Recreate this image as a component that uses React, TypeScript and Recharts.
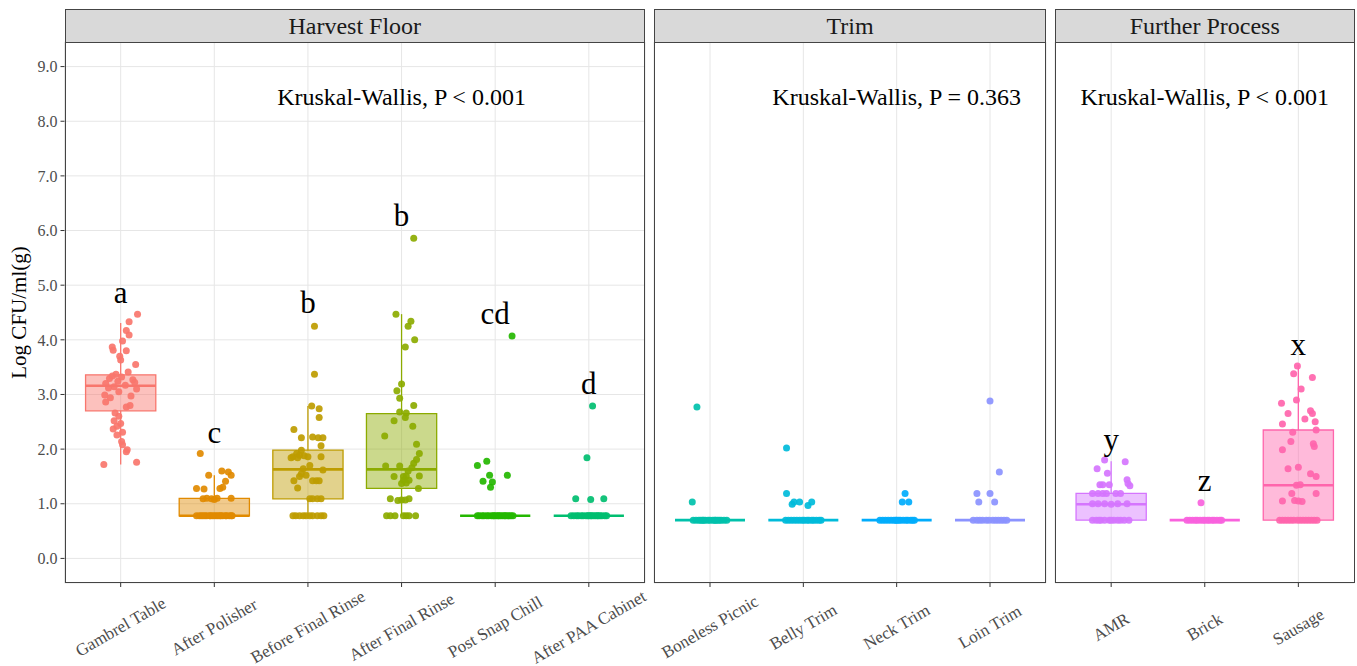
import React from 'react';
import { ComposedChart, XAxis, YAxis, CartesianGrid, Scatter, ReferenceArea, ReferenceLine } from 'recharts';

const W = 1357;
const H = 666;
const FONT = '"Liberation Serif", "Times New Roman", serif';

const yTicks = [0, 1, 2, 3, 4, 5, 6, 7, 8, 9];

const harvestCats = ['Gambrel Table', 'After Polisher', 'Before Final Rinse', 'After Final Rinse', 'Post Snap Chill', 'After PAA Cabinet'];
const trimCats = ['Boneless Picnic', 'Belly Trim', 'Neck Trim', 'Loin Trim'];
const furtherCats = ['AMR', 'Brick', 'Sausage'];

// samples as [log CFU, jitter]
const gambrelTable = [
  [4.47, 0.18], [4.33, 0.09], [4.17, 0.06], [4.09, 0.09], [3.98, 0.02], [3.87, -0.09], [3.81, -0.08], [3.8, 0.06],
  [3.7, -0.01], [3.63, 0.0], [3.55, 0.16], [3.41, 0.08], [3.37, -0.05], [3.34, -0.09], [3.32, 0.01], [3.29, -0.12],
  [3.27, 0.13], [3.24, -0.03], [3.22, 0.15], [3.2, -0.16], [3.17, 0.05], [3.14, -0.07], [3.12, -0.13], [3.1, 0.17],
  [3.05, -0.02], [2.99, -0.17], [2.97, 0.11], [2.94, -0.11], [2.86, -0.16], [2.8, 0.1], [2.77, 0.06], [2.66, -0.06],
  [2.6, -0.02], [2.52, -0.07], [2.47, 0.0], [2.42, -0.04], [2.37, -0.08], [2.31, 0.02], [2.26, -0.04], [2.14, 0.01],
  [2.08, 0.02], [1.99, 0.07], [1.95, 0.06], [1.76, 0.17], [1.72, -0.18],
];
const afterPolisher = [
  [1.92, -0.15], [1.6, 0.08], [1.58, 0.15], [1.52, -0.06], [1.52, 0.18], [1.41, 0.12], [1.3, 0.09], [1.28, 0.06],
  [1.28, -0.19], [1.27, -0.11], [1.1, -0.08], [1.1, 0.03], [1.1, 0.18], [1.09, -0.03], [1.08, 0.0], [1.09, -0.12],
  [0.78, -0.19], [0.78, -0.16], [0.78, -0.14], [0.78, -0.1], [0.78, -0.08], [0.78, -0.05], [0.78, -0.04], [0.78, 0.0],
  [0.78, 0.02], [0.78, 0.04], [0.78, 0.07], [0.78, 0.09], [0.78, 0.12], [0.78, 0.13], [0.78, 0.16], [0.78, 0.18],
  [0.78, -0.12], [0.78, 0.06], [0.78, -0.02], [0.78, 0.19],
];
const beforeFinalRinse = [
  [4.25, 0.07], [3.37, 0.07], [2.79, 0.04], [2.74, 0.12], [2.58, 0.12], [2.36, -0.15], [2.21, -0.07], [2.22, 0.05],
  [2.21, 0.11], [2.21, 0.16], [2.06, 0.14], [1.98, -0.07], [1.92, -0.12], [1.89, -0.09], [1.88, -0.04], [1.86, -0.16],
  [1.86, 0.0], [1.84, -0.18], [1.84, -0.11], [1.86, 0.14], [1.7, 0.02], [1.64, -0.05], [1.62, 0.16], [1.55, -0.07],
  [1.52, -0.02], [1.5, -0.09], [1.42, 0.05], [1.42, 0.09], [1.42, 0.12], [1.42, -0.15], [1.29, -0.11], [1.09, 0.05],
  [1.09, 0.1], [1.09, 0.14], [1.09, 0.02],
  [0.78, -0.13], [0.78, -0.09], [0.78, -0.05], [0.78, -0.02], [0.78, 0.02], [0.78, 0.05], [0.78, 0.1], [0.78, 0.14],
  [0.78, 0.17], [0.78, -0.16],
];
const afterFinalRinse = [
  [5.86, 0.13], [4.47, -0.06], [4.34, 0.1], [4.25, 0.07], [4.0, 0.14], [3.87, 0.04], [3.19, 0.0], [3.07, -0.05],
  [2.93, -0.02], [2.8, 0.13], [2.68, -0.02], [2.66, 0.05], [2.58, 0.04], [2.52, -0.08], [2.42, 0.12], [2.24, -0.18],
  [2.09, 0.16], [1.92, 0.19], [1.81, 0.16], [1.74, 0.13], [1.69, -0.17], [1.69, -0.02], [1.66, 0.11], [1.6, 0.07],
  [1.5, -0.08], [1.5, 0.02], [1.51, 0.05], [1.51, 0.19], [1.43, 0.02], [1.43, 0.08], [1.37, 0.0], [1.38, 0.05],
  [1.28, 0.18], [1.09, -0.12], [1.06, -0.04], [1.07, 0.0], [1.07, 0.04], [1.09, 0.08],
  [0.78, -0.16], [0.78, -0.12], [0.78, -0.07], [0.78, 0.02], [0.78, 0.05], [0.78, 0.08], [0.78, 0.15],
];
const postSnapChill = [
  [4.07, 0.18], [1.78, -0.09], [1.7, -0.19], [1.52, -0.06], [1.52, 0.13], [1.41, -0.13], [1.4, -0.03], [1.3, -0.05],
  [0.78, -0.19], [0.78, -0.17], [0.78, -0.14], [0.78, -0.12], [0.78, -0.09], [0.78, -0.07], [0.78, -0.04], [0.78, -0.01],
  [0.78, 0.01], [0.78, 0.03], [0.78, 0.06], [0.78, 0.08], [0.78, 0.1], [0.78, 0.13], [0.78, 0.15], [0.78, 0.17],
  [0.78, 0.19], [0.78, -0.02], [0.78, 0.04], [0.78, 0.11],
];
const afterPaaCabinet = [
  [2.79, 0.04], [1.84, -0.02], [1.09, -0.14], [1.08, 0.02], [1.09, 0.16],
  [0.78, -0.19], [0.78, -0.16], [0.78, -0.13], [0.78, -0.11], [0.78, -0.08], [0.78, -0.06], [0.78, -0.03], [0.78, 0.0],
  [0.78, 0.02], [0.78, 0.05], [0.78, 0.07], [0.78, 0.1], [0.78, 0.12], [0.78, 0.14], [0.78, 0.17], [0.78, 0.19],
  [0.78, -0.01], [0.78, 0.09], [0.78, 0.03],
];
const bonelessPicnic = [
  [2.77, -0.14], [1.03, -0.19],
  [0.7, -0.18], [0.7, -0.15], [0.7, -0.12], [0.7, -0.1], [0.7, -0.07], [0.7, -0.05], [0.7, -0.02], [0.7, 0.0],
  [0.7, 0.03], [0.7, 0.05], [0.7, 0.08], [0.7, 0.1], [0.7, 0.12], [0.7, 0.15], [0.7, 0.18], [0.7, -0.08], [0.7, 0.06],
];
const bellyTrim = [
  [2.02, -0.18], [1.19, -0.18], [0.99, -0.12], [1.03, -0.1], [1.03, -0.04], [0.97, 0.05], [1.03, 0.09],
  [0.7, -0.19], [0.7, -0.16], [0.7, -0.13], [0.7, -0.1], [0.7, -0.07], [0.7, -0.04], [0.7, -0.01], [0.7, 0.01],
  [0.7, 0.04], [0.7, 0.06], [0.7, 0.09], [0.7, 0.11], [0.7, 0.14], [0.7, 0.17], [0.7, 0.19],
];
const neckTrim = [
  [1.19, 0.09], [1.03, 0.06], [1.03, 0.13],
  [0.7, -0.18], [0.7, -0.15], [0.7, -0.12], [0.7, -0.09], [0.7, -0.06], [0.7, -0.03], [0.7, -0.01], [0.7, 0.02],
  [0.7, 0.04], [0.7, 0.07], [0.7, 0.1], [0.7, 0.12], [0.7, 0.15], [0.7, 0.17], [0.7, 0.19], [0.7, 0.0],
];
const loinTrim = [
  [2.88, 0.0], [1.58, 0.1], [1.19, -0.14], [1.19, 0.0], [1.03, -0.12], [1.03, 0.05],
  [0.7, -0.18], [0.7, -0.14], [0.7, -0.11], [0.7, -0.08], [0.7, -0.04], [0.7, -0.01], [0.7, 0.03], [0.7, 0.06],
  [0.7, 0.09], [0.7, 0.12], [0.7, 0.15], [0.7, 0.18],
];
const amr = [
  [1.8, -0.07], [1.77, 0.15], [1.64, -0.15], [1.56, -0.04], [1.44, 0.17], [1.35, -0.12], [1.35, -0.09], [1.35, -0.02],
  [1.33, 0.2], [1.37, 0.18], [1.19, -0.2], [1.19, -0.14], [1.19, -0.09], [1.19, -0.05], [1.19, 0.05], [1.19, 0.1],
  [1.0, -0.14], [1.0, -0.07], [0.99, 0.0], [1.0, 0.07], [1.0, 0.17], [1.0, -0.2],
  [0.7, -0.2], [0.7, -0.16], [0.7, -0.11], [0.7, -0.07], [0.7, -0.02], [0.7, 0.03], [0.7, 0.07], [0.7, 0.1],
  [0.7, 0.14], [0.7, 0.19], [0.7, -0.13], [0.7, 0.0],
];
const brick = [
  [1.02, -0.04],
  [0.7, -0.19], [0.7, -0.16], [0.7, -0.13], [0.7, -0.1], [0.7, -0.08], [0.7, -0.05], [0.7, -0.02], [0.7, 0.0],
  [0.7, 0.03], [0.7, 0.05], [0.7, 0.08], [0.7, 0.1], [0.7, 0.13], [0.7, 0.16], [0.7, 0.18],
];
const sausage = [
  [3.52, -0.01], [3.38, -0.05], [3.31, 0.15], [3.1, 0.03], [2.9, -0.02], [2.84, -0.18], [2.7, 0.13], [2.65, -0.11],
  [2.65, 0.15], [2.55, 0.07], [2.5, 0.18], [2.46, -0.17], [2.35, 0.19], [2.31, -0.06], [2.14, -0.08], [2.1, 0.16],
  [2.05, 0.17], [1.99, -0.17], [1.67, 0.0], [1.64, -0.11], [1.55, 0.13], [1.5, 0.19], [1.34, -0.02], [1.35, 0.02],
  [1.19, -0.07], [1.19, 0.19], [1.05, -0.17], [1.06, -0.04], [1.05, 0.0], [1.04, 0.04],
  [0.7, -0.2], [0.7, -0.17], [0.7, -0.14], [0.7, -0.11], [0.7, -0.08], [0.7, -0.05], [0.7, -0.01], [0.7, 0.02],
  [0.7, 0.05], [0.7, 0.08], [0.7, 0.11], [0.7, 0.14], [0.7, 0.17], [0.7, 0.2],
];

// [q1, median, q3, lower whisker, upper whisker]
const harvestBoxes = [
  [2.7, 3.16, 3.36, 1.72, 4.31],
  [0.78, 0.78, 1.1, 0.78, 1.52],
  [1.09, 1.63, 1.98, 0.78, 2.79],
  [1.28, 1.63, 2.65, 0.78, 4.47],
  [0.78, 0.78, 0.78, 0.78, 0.78],
  [0.78, 0.78, 0.78, 0.78, 0.78],
];
const trimBoxes = [
  [0.7, 0.7, 0.7, 0.7, 0.7],
  [0.7, 0.7, 0.7, 0.7, 0.7],
  [0.7, 0.7, 0.7, 0.7, 0.7],
  [0.7, 0.7, 0.7, 0.7, 0.7],
];
const furtherBoxes = [
  [0.7, 0.99, 1.19, 0.7, 1.78],
  [0.7, 0.7, 0.7, 0.7, 0.7],
  [0.7, 1.34, 2.35, 0.7, 3.54],
];

const harvestLetters = ['a', 'c', 'b', 'b', 'cd', 'd'];
const harvestLetterY = [4.87, 2.31, 4.69, 6.27, 4.49, 3.2];
const trimLetters: string[] = [];
const trimLetterY: number[] = [];
const furtherLetters = ['y', 'z', 'x'];
const furtherLetterY = [2.18, 1.43, 3.92];

const kwText = ['Kruskal-Wallis, P < 0.001', 'Kruskal-Wallis, P = 0.363', 'Kruskal-Wallis, P < 0.001'];
const kwAt = [4, 3, 2];
const kwY = 8.45;

const harvestColors = ['#F8766D', '#E18A00', '#BE9C00', '#8CAB00', '#24B700', '#00BE70'];
const trimColors = ['#00C1AB', '#00BBDA', '#00ACFC', '#8B93FF'];
const furtherColors = ['#D575FE', '#F962DD', '#FF65AC'];

const TOP = 42;
const BOTTOM = 583;
const HALF = 0.375;

function Panel({ title, cats, groups, boxes, colors, letters, letterY, kw, kwX, left, right, showY }: any) {
  const n = cats.length;
  const pts = groups.map((g: number[][], i: number) => g.map(([v, j]) => ({ x: i + 1 + j, y: v })));
  const letterData = letters.map((t: string, i: number) => ({ x: i + 1, y: letterY[i], text: t }));
  const kwData = [{ x: kwX, y: kwY, text: kw }];
  const tick = (p: any) => (
    <text
      transform={`translate(${p.x},${p.y + 38}) rotate(-30)`}
      textAnchor="middle"
      dominantBaseline="central"
      fontSize={17}
      fill="#4d4d4d"
      fontFamily={FONT}
    >
      {cats[p.payload.value - 1]}
    </text>
  );
  return (
    <>
      <div style={{ position: 'absolute', left: 0, top: 0 }}>
        <ComposedChart width={W} height={H} margin={{ top: TOP, right: W - right, bottom: 0, left: showY ? 0.5 : left }}>
          <CartesianGrid stroke="#e6e6e6" strokeWidth={1} />
          <XAxis
            type="number"
            dataKey="x"
            domain={[0.4, n + 0.6]}
            ticks={cats.map((_: string, i: number) => i + 1)}
            interval={0}
            allowDataOverflow
            height={H - BOTTOM}
            tickSize={4}
            axisLine={false}
            tickLine={{ stroke: '#333' }}
            tick={tick}
          />
          <YAxis
            type="number"
            dataKey="y"
            domain={[-0.45, 9.45]}
            ticks={yTicks}
            allowDataOverflow
            width={showY ? 64 : 0}
            tickSize={showY ? 4 : 0}
            tickMargin={3}
            axisLine={false}
            tickLine={showY ? { stroke: '#333' } : false}
            tick={showY ? { fill: '#4d4d4d', fontSize: 16, fontFamily: FONT } : false}
            tickFormatter={(v: number) => v.toFixed(1)}
          />
          {boxes.map(([q1, med, q3], i: number) => (
            <ReferenceArea
              key={'box' + i}
              x1={i + 1 - HALF}
              x2={i + 1 + HALF}
              y1={q1}
              y2={q3}
              fill={colors[i]}
              fillOpacity={0.45}
              stroke={colors[i]}
              strokeWidth={1.3}
              strokeOpacity={1}
              ifOverflow="visible"
            />
          ))}
          {boxes.map(([q1, med, q3, lo, hi], i: number) =>
            hi > q3 ? (
              <ReferenceLine key={'wh' + i} segment={[{ x: i + 1, y: q3 }, { x: i + 1, y: hi }]} stroke={colors[i]} strokeWidth={1.3} ifOverflow="visible" />
            ) : null
          )}
          {boxes.map(([q1, med, q3, lo], i: number) =>
            lo < q1 ? (
              <ReferenceLine key={'wl' + i} segment={[{ x: i + 1, y: lo }, { x: i + 1, y: q1 }]} stroke={colors[i]} strokeWidth={1.3} ifOverflow="visible" />
            ) : null
          )}
          {boxes.map(([q1, med], i: number) => (
            <ReferenceLine
              key={'md' + i}
              segment={[{ x: i + 1 - HALF, y: med }, { x: i + 1 + HALF, y: med }]}
              stroke={colors[i]}
              strokeWidth={2.6}
              ifOverflow="visible"
            />
          ))}
          {pts.map((d: any[], i: number) => (
            <Scatter
              key={'pt' + i}
              data={d}
              fill={colors[i]}
              isAnimationActive={false}
              shape={(p: any) => <circle cx={p.cx} cy={p.cy} r={3.5} fill={colors[i]} fillOpacity={0.92} />}
            />
          ))}
          <Scatter
            data={letterData}
            isAnimationActive={false}
            shape={(p: any) => (
              <text x={p.cx} y={p.cy} textAnchor="middle" dominantBaseline="central" fontSize={31} fill="#000" fontFamily={FONT}>
                {p.payload.text}
              </text>
            )}
          />
          <Scatter
            data={kwData}
            isAnimationActive={false}
            shape={(p: any) => (
              <text x={p.cx} y={p.cy} textAnchor="middle" dominantBaseline="central" fontSize={24} fill="#000" fontFamily={FONT}>
                {p.payload.text}
              </text>
            )}
          />
        </ComposedChart>
      </div>
      <div
        style={{
          position: 'absolute',
          left,
          top: 9,
          width: right - left,
          height: TOP - 9 + 1,
          boxSizing: 'border-box',
          border: '1.3px solid #444',
          background: '#d9d9d9',
          textAlign: 'center',
          lineHeight: '32px',
          fontSize: 24,
          color: '#1a1a1a',
          fontFamily: FONT,
        }}
      >
        {title}
      </div>
      <div
        style={{
          position: 'absolute',
          left,
          top: TOP,
          width: right - left,
          height: BOTTOM - TOP,
          boxSizing: 'border-box',
          border: '1.3px solid #444',
          pointerEvents: 'none',
        }}
      />
    </>
  );
}

export default function App() {
  return (
    <div style={{ position: 'absolute', left: 0, top: 0, width: W, height: H, background: '#fff', overflow: 'hidden' }}>
      <Panel
        title="Harvest Floor"
        cats={harvestCats}
        groups={[gambrelTable, afterPolisher, beforeFinalRinse, afterFinalRinse, postSnapChill, afterPaaCabinet]}
        boxes={harvestBoxes}
        colors={harvestColors}
        letters={harvestLetters}
        letterY={harvestLetterY}
        kw={kwText[0]}
        kwX={kwAt[0]}
        left={64.5}
        right={645}
        showY
      />
      <Panel
        title="Trim"
        cats={trimCats}
        groups={[bonelessPicnic, bellyTrim, neckTrim, loinTrim]}
        boxes={trimBoxes}
        colors={trimColors}
        letters={trimLetters}
        letterY={trimLetterY}
        kw={kwText[1]}
        kwX={kwAt[1]}
        left={654}
        right={1046}
      />
      <Panel
        title="Further Process"
        cats={furtherCats}
        groups={[amr, brick, sausage]}
        boxes={furtherBoxes}
        colors={furtherColors}
        letters={furtherLetters}
        letterY={furtherLetterY}
        kw={kwText[2]}
        kwX={kwAt[2]}
        left={1055}
        right={1354.5}
      />
      <svg style={{ position: 'absolute', left: 0, top: 0 }} width={40} height={H}>
        <text
          transform={`translate(19,${(TOP + BOTTOM) / 2}) rotate(-90)`}
          textAnchor="middle"
          dominantBaseline="central"
          fontSize={21}
          fill="#000"
          fontFamily={FONT}
        >
          Log CFU/ml(g)
        </text>
      </svg>
    </div>
  );
}
